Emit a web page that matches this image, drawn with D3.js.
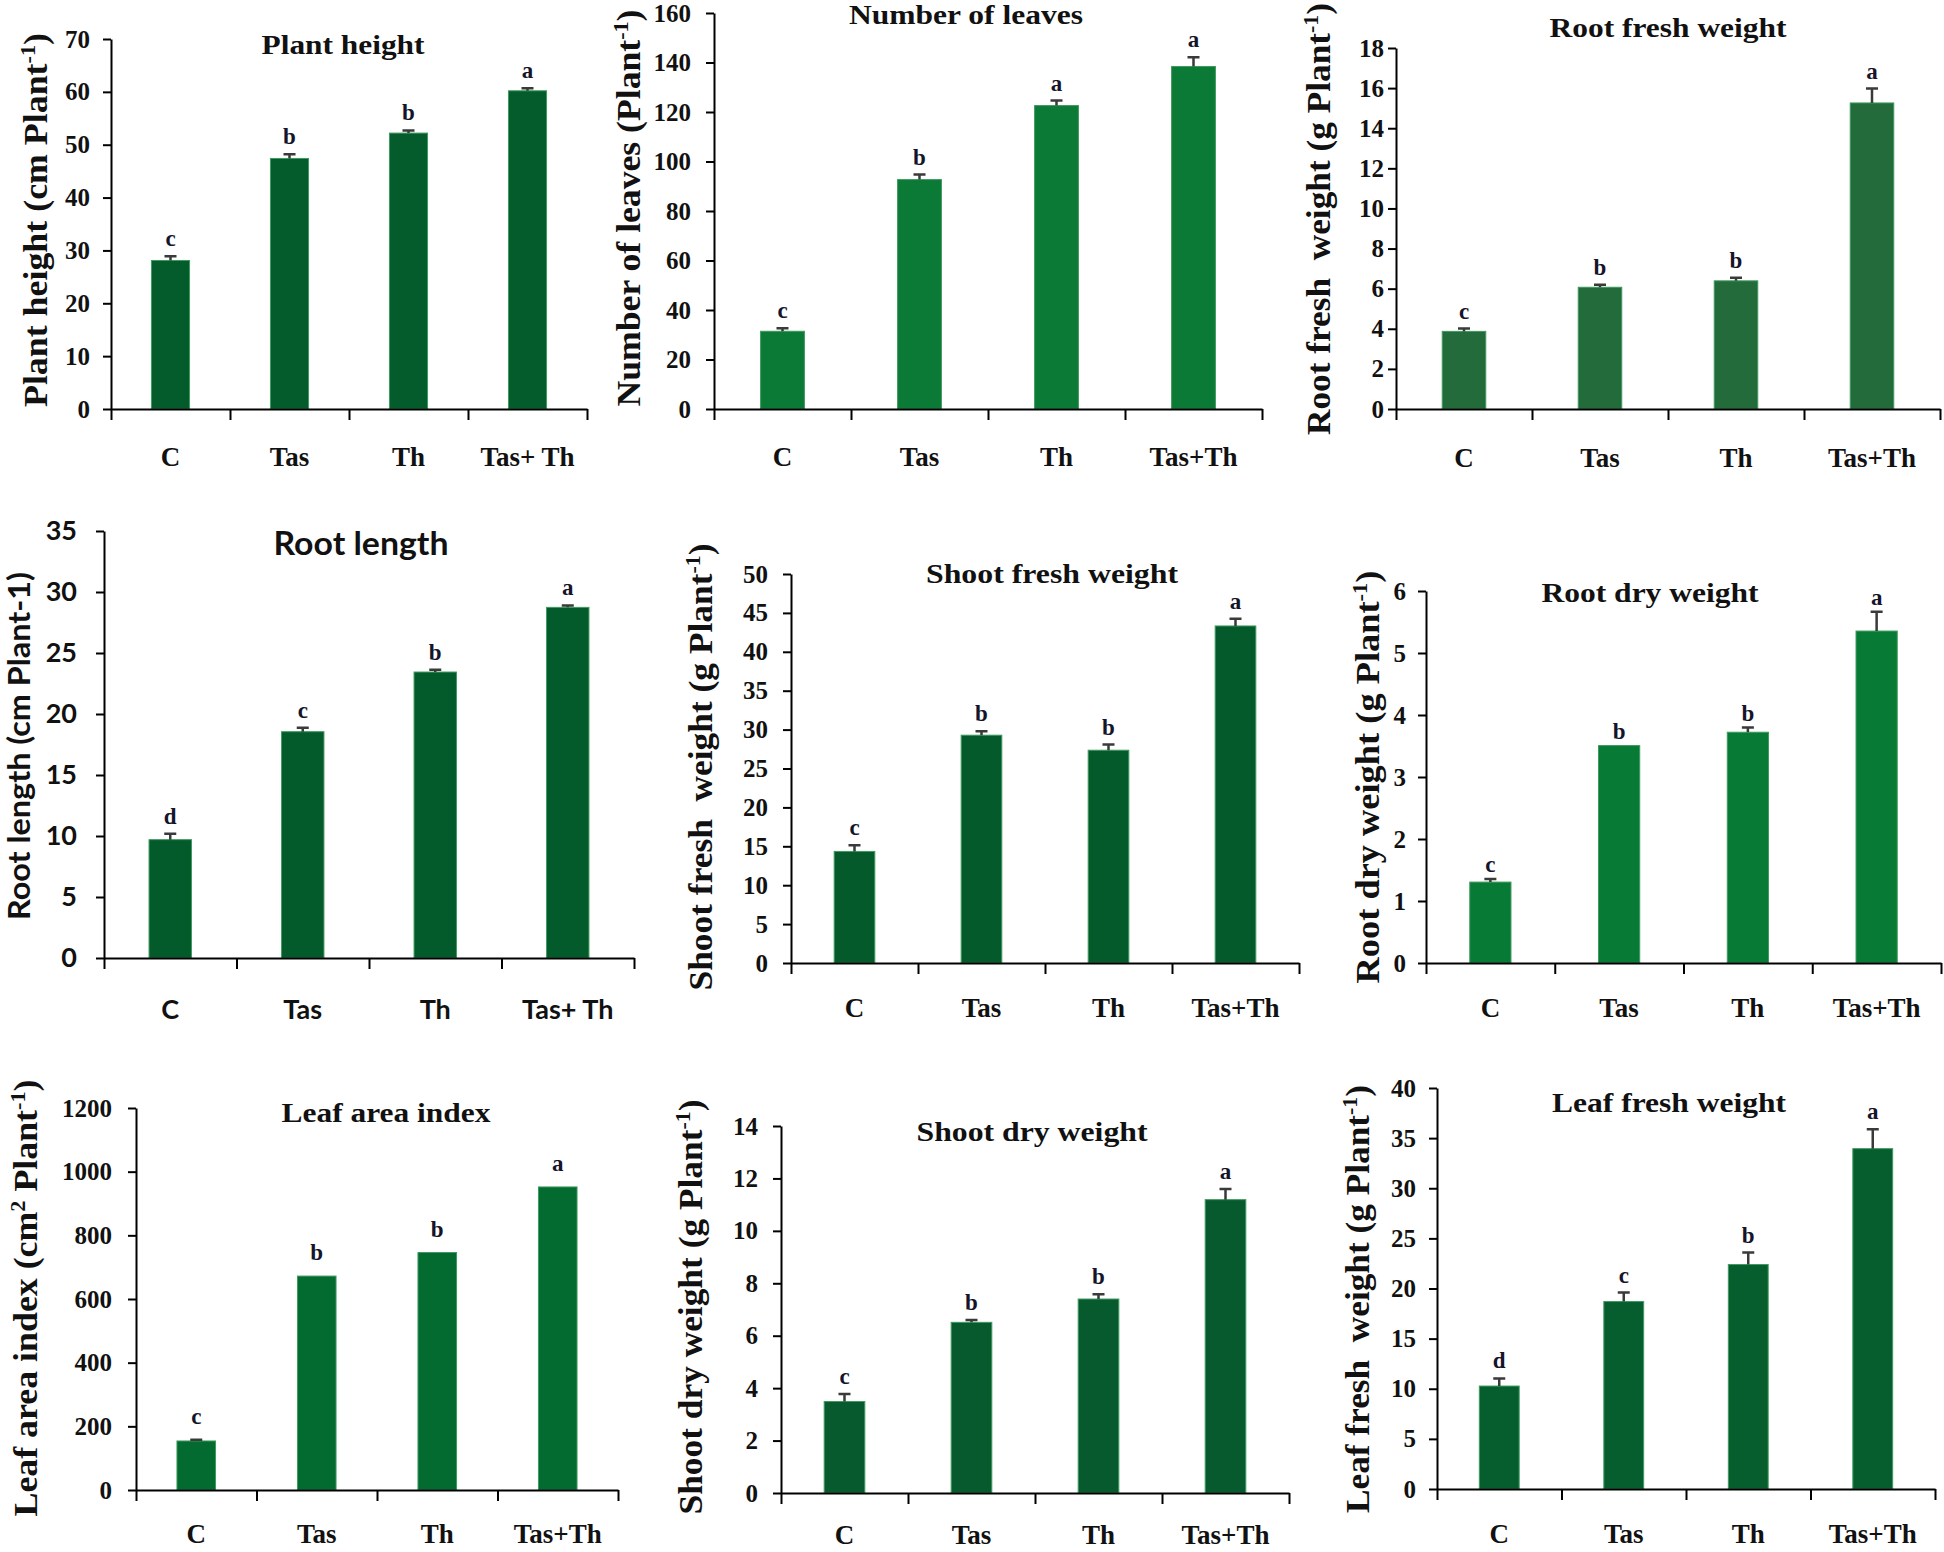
<!DOCTYPE html>
<html><head><meta charset="utf-8">
<script src="https://cdn.jsdelivr.net/npm/d3@7"></script>
<style>body{margin:0;background:#fff} svg{display:block}</style>
</head><body>
<svg id="chart" width="1944" height="1552"></svg>
<script>
// ---------- data ----------
const categories = ["C", "Tas", "Th", "Tas+Th"];
const categoriesSpaced = ["C", "Tas", "Th", "Tas+ Th"];

const plantHeight = [28.1, 47.4, 52.2, 60.2];
const plantHeightErr = [0.8, 0.8, 0.5, 0.5];
const plantHeightLetters = ["c", "b", "b", "a"];
const plantHeightTicks = [0, 10, 20, 30, 40, 50, 60, 70];

const leafNumber = [31.4, 92.7, 122.6, 138.4];
const leafNumberErr = [1.2, 2.0, 2.0, 3.7];
const leafNumberLetters = ["c", "b", "a", "a"];
const leafNumberTicks = [0, 20, 40, 60, 80, 100, 120, 140, 160];

const rootFresh = [3.87, 6.07, 6.39, 15.26];
const rootFreshErr = [0.14, 0.12, 0.16, 0.72];
const rootFreshLetters = ["c", "b", "b", "a"];
const rootFreshTicks = [0, 2, 4, 6, 8, 10, 12, 14, 16, 18];

const rootLength = [9.7, 18.55, 23.44, 28.74];
const rootLengthErr = [0.49, 0.33, 0.19, 0.16];
const rootLengthLetters = ["d", "c", "b", "a"];
const rootLengthTicks = [0, 5, 10, 15, 20, 25, 30, 35];

const shootFresh = [14.34, 29.28, 27.35, 43.32];
const shootFreshErr = [0.81, 0.51, 0.73, 0.94];
const shootFreshLetters = ["c", "b", "b", "a"];
const shootFreshTicks = [0, 5, 10, 15, 20, 25, 30, 35, 40, 45, 50];

const rootDry = [1.305, 3.507, 3.722, 5.354];
const rootDryErr = [0.05, 0, 0.075, 0.31];
const rootDryLetters = ["c", "b", "b", "a"];
const rootDryTicks = [0, 1, 2, 3, 4, 5, 6];

const leafArea = [154, 672, 746, 952];
const leafAreaErr = [4, 0, 0, 0];
const leafAreaLetters = ["c", "b", "b", "a"];
const leafAreaTicks = [0, 200, 400, 600, 800, 1000, 1200];

const shootDry = [3.49, 6.51, 7.40, 11.19];
const shootDryErr = [0.29, 0.09, 0.18, 0.41];
const shootDryLetters = ["c", "b", "b", "a"];
const shootDryTicks = [0, 2, 4, 6, 8, 10, 12, 14];

const leafFresh = [10.27, 18.70, 22.39, 33.95];
const leafFreshErr = [0.76, 0.90, 1.20, 1.93];
const leafFreshLetters = ["d", "c", "b", "a"];
const leafFreshTicks = [0, 5, 10, 15, 20, 25, 30, 35, 40];

// ---------- panels (layout) ----------
const SERIF = "'Liberation Serif','Times New Roman',serif";
const SANS = "Lato,'Open Sans',sans-serif";

const panels = [
  {title:"Plant height", ylab:[["Plant height (cm Plant",0],["-1",1],[")",0]],
   cats:categoriesSpaced, vals:plantHeight, err:plantHeightErr, letters:plantHeightLetters, ticks:plantHeightTicks,
   x0:111, x1:587, yTop:39, y0:409, tx:343, ty:45, tlen:163, lx:35, ly:220, llen:374, catY:457, labR:90,
   color:"#045c2c", font:SERIF, letOff:10},
  {title:"Number of leaves", ylab:[["Number of leaves (Plant",0],["-1",1],[")",0]],
   cats:categories, vals:leafNumber, err:leafNumberErr, letters:leafNumberLetters, ticks:leafNumberTicks,
   x0:714, x1:1262, yTop:13, y0:409, tx:966, ty:15, tlen:234, lx:628, ly:208, llen:397, catY:457, labR:691,
   color:"#0b7a36", font:SERIF, letOff:10},
  {title:"Root fresh weight", ylab:[["Root fresh  weight (g Plant",0],["-1",1],[")",0]],
   cats:categories, vals:rootFresh, err:rootFreshErr, letters:rootFreshLetters, ticks:rootFreshTicks,
   x0:1396, x1:1940, yTop:48, y0:409, tx:1668, ty:28, tlen:237, lx:1318, ly:219, llen:432, catY:458, labR:1384,
   color:"#236b3b", font:SERIF, letOff:10},
  {title:"Root length", ylab:[["Root length (cm Plant-1)",0]],
   cats:categoriesSpaced, vals:rootLength, err:rootLengthErr, letters:rootLengthLetters, ticks:rootLengthTicks,
   x0:104, x1:634, yTop:531, y0:958, tx:361, ty:544, tlen:175, lx:19, ly:746, llen:348, catY:1010, labR:77,
   color:"#035a2b", font:SANS, letOff:10},
  {title:"Shoot fresh weight", ylab:[["Shoot fresh  weight (g Plant",0],["-1",1],[")",0]],
   cats:categories, vals:shootFresh, err:shootFreshErr, letters:shootFreshLetters, ticks:shootFreshTicks,
   x0:791, x1:1299, yTop:574, y0:963, tx:1052, ty:574, tlen:252, lx:700, ly:767, llen:447, catY:1008, labR:768,
   color:"#045a2b", font:SERIF, letOff:10},
  {title:"Root dry weight", ylab:[["Root dry weight (g Plant",0],["-1",1],[")",0]],
   cats:categories, vals:rootDry, err:rootDryErr, letters:rootDryLetters, ticks:rootDryTicks,
   x0:1426, x1:1941, yTop:591, y0:963, tx:1650, ty:593, tlen:217, lx:1367, ly:777, llen:413, catY:1008, labR:1406,
   color:"#077a35", font:SERIF, letOff:7},
  {title:"Leaf area index", ylab:[["Leaf area index (cm",0],["2",1],[" Plant",0],["-1",1],[")",0]],
   cats:categories, vals:leafArea, err:leafAreaErr, letters:leafAreaLetters, ticks:leafAreaTicks,
   x0:136, x1:618, yTop:1108, y0:1490, tx:386, ty:1113, tlen:209, lx:25, ly:1298, llen:437, catY:1534, labR:112,
   color:"#046b30", font:SERIF, letOff:16},
  {title:"Shoot dry weight", ylab:[["Shoot dry weight (g Plant",0],["-1",1],[")",0]],
   cats:categories, vals:shootDry, err:shootDryErr, letters:shootDryLetters, ticks:shootDryTicks,
   x0:781, x1:1289, yTop:1126, y0:1493, tx:1032, ty:1132, tlen:231, lx:690, ly:1307, llen:415, catY:1535, labR:758,
   color:"#075a2d", font:SERIF, letOff:10},
  {title:"Leaf fresh weight", ylab:[["Leaf fresh  weight (g Plant",0],["-1",1],[")",0]],
   cats:categories, vals:leafFresh, err:leafFreshErr, letters:leafFreshLetters, ticks:leafFreshTicks,
   x0:1437, x1:1935, yTop:1088, y0:1489, tx:1669, ty:1103, tlen:234, lx:1357, ly:1299, llen:428, catY:1534, labR:1416,
   color:"#065e2e", font:SERIF, letOff:10}
];

const svg = d3.select("#chart");
svg.append("rect").attr("width",1944).attr("height",1552).attr("fill","#fff");

panels.forEach(p => {
  const g = svg.append("g");
  const ticks = p.ticks;
  const y = d3.scaleLinear().domain([0, ticks[ticks.length-1]]).range([p.y0, p.yTop]);
  const x = d3.scaleBand().domain(p.cats).range([p.x0, p.x1]).paddingInner(0.68).paddingOuter(0.34);
  const xb = d3.scaleLinear().domain([0, p.cats.length]).range([p.x0, p.x1]);
  const isSans = p.font === SANS;

  // bars
  g.selectAll("rect.bar").data(p.vals).join("rect")
    .attr("class","bar")
    .attr("x",(d,i)=>x(p.cats[i]))
    .attr("width",x.bandwidth())
    .attr("y",d=>y(d))
    .attr("height",d=>p.y0 - y(d))
    .attr("fill",p.color)
    .attr("stroke","#3f9a5e").attr("stroke-width",1);

  // error bars (upper half only; none where error is zero)
  const cx = i => x(p.cats[i]) + x.bandwidth()/2;
  g.selectAll("path.err").data(p.vals).join("path")
    .attr("class","err")
    .attr("d",(d,i)=>{
      if (!p.err[i]) return null;
      const yt = y(d + p.err[i]), yb = y(d);
      return `M${cx(i)},${yb}V${yt}M${cx(i)-6},${yt}H${cx(i)+6}`;
    })
    .attr("stroke","#3a3a3a").attr("stroke-width",2.5).attr("fill","none");

  // letters
  g.selectAll("text.let").data(p.vals).join("text")
    .attr("class","let")
    .attr("x",(d,i)=>cx(i))
    .attr("y",(d,i)=>y(d + p.err[i]) - p.letOff)
    .attr("text-anchor","middle")
    .attr("font-family",SERIF).attr("font-weight","bold").attr("font-size",23)
    .attr("fill","#14142a")
    .text((d,i)=>p.letters[i]);

  // y axis
  const ya = g.append("g").attr("transform",`translate(${p.x0},0)`)
    .call(d3.axisLeft(y).tickValues(ticks).tickSize(8).tickSizeOuter(0)
      .tickPadding(p.x0 - p.labR - 8).tickFormat(d3.format("d")));
  ya.select(".domain").attr("stroke","#000").attr("stroke-width",2);
  ya.selectAll(".tick line").attr("stroke","#000").attr("stroke-width",2);
  ya.selectAll(".tick text").attr("font-family",p.font).attr("font-weight","bold")
    .attr("font-size", isSans ? 27 : 25).attr("fill","#111");

  // x axis with boundary ticks
  const xa = g.append("g").attr("transform",`translate(0,${p.y0})`)
    .call(d3.axisBottom(xb).tickValues(d3.range(p.cats.length+1)).tickSize(11).tickSizeOuter(0).tickFormat(""));
  xa.select(".domain").attr("stroke","#000").attr("stroke-width",2);
  xa.selectAll(".tick line").attr("stroke","#000").attr("stroke-width",2);

  // category labels
  g.selectAll("text.cat").data(p.cats).join("text")
    .attr("class","cat")
    .attr("x",d=>x(d)+x.bandwidth()/2)
    .attr("y",p.catY)
    .attr("dy","0.35em")
    .attr("text-anchor","middle")
    .attr("font-family",p.font).attr("font-weight","bold")
    .attr("font-size", 27)
    .attr("fill","#111")
    .text(d=>d);

  // title
  g.append("text")
    .attr("x",p.tx).attr("y",p.ty).attr("dy","0.35em")
    .attr("text-anchor","middle")
    .attr("font-family",p.font).attr("font-weight","bold")
    .attr("font-size", isSans ? 32 : 27)
    .attr("textLength",p.tlen).attr("lengthAdjust","spacingAndGlyphs")
    .attr("fill","#111")
    .text(p.title);

  // y label
  const yl = g.append("text")
    .attr("transform",`translate(${p.lx},${p.ly}) rotate(-90)`)
    .attr("dy","0.35em")
    .attr("text-anchor","middle")
    .attr("font-family",p.font).attr("font-weight","bold")
    .attr("font-size", isSans ? 31 : 34)
    .attr("textLength",p.llen).attr("lengthAdjust","spacingAndGlyphs")
    .attr("fill","#111")
    .attr("xml:space","preserve");
  p.ylab.forEach(([t,sup]) => {
    const ts = yl.append("tspan").text(t);
    if (sup) ts.attr("baseline-shift","super").attr("font-size","62%");
  });
});
</script>
</body></html>
